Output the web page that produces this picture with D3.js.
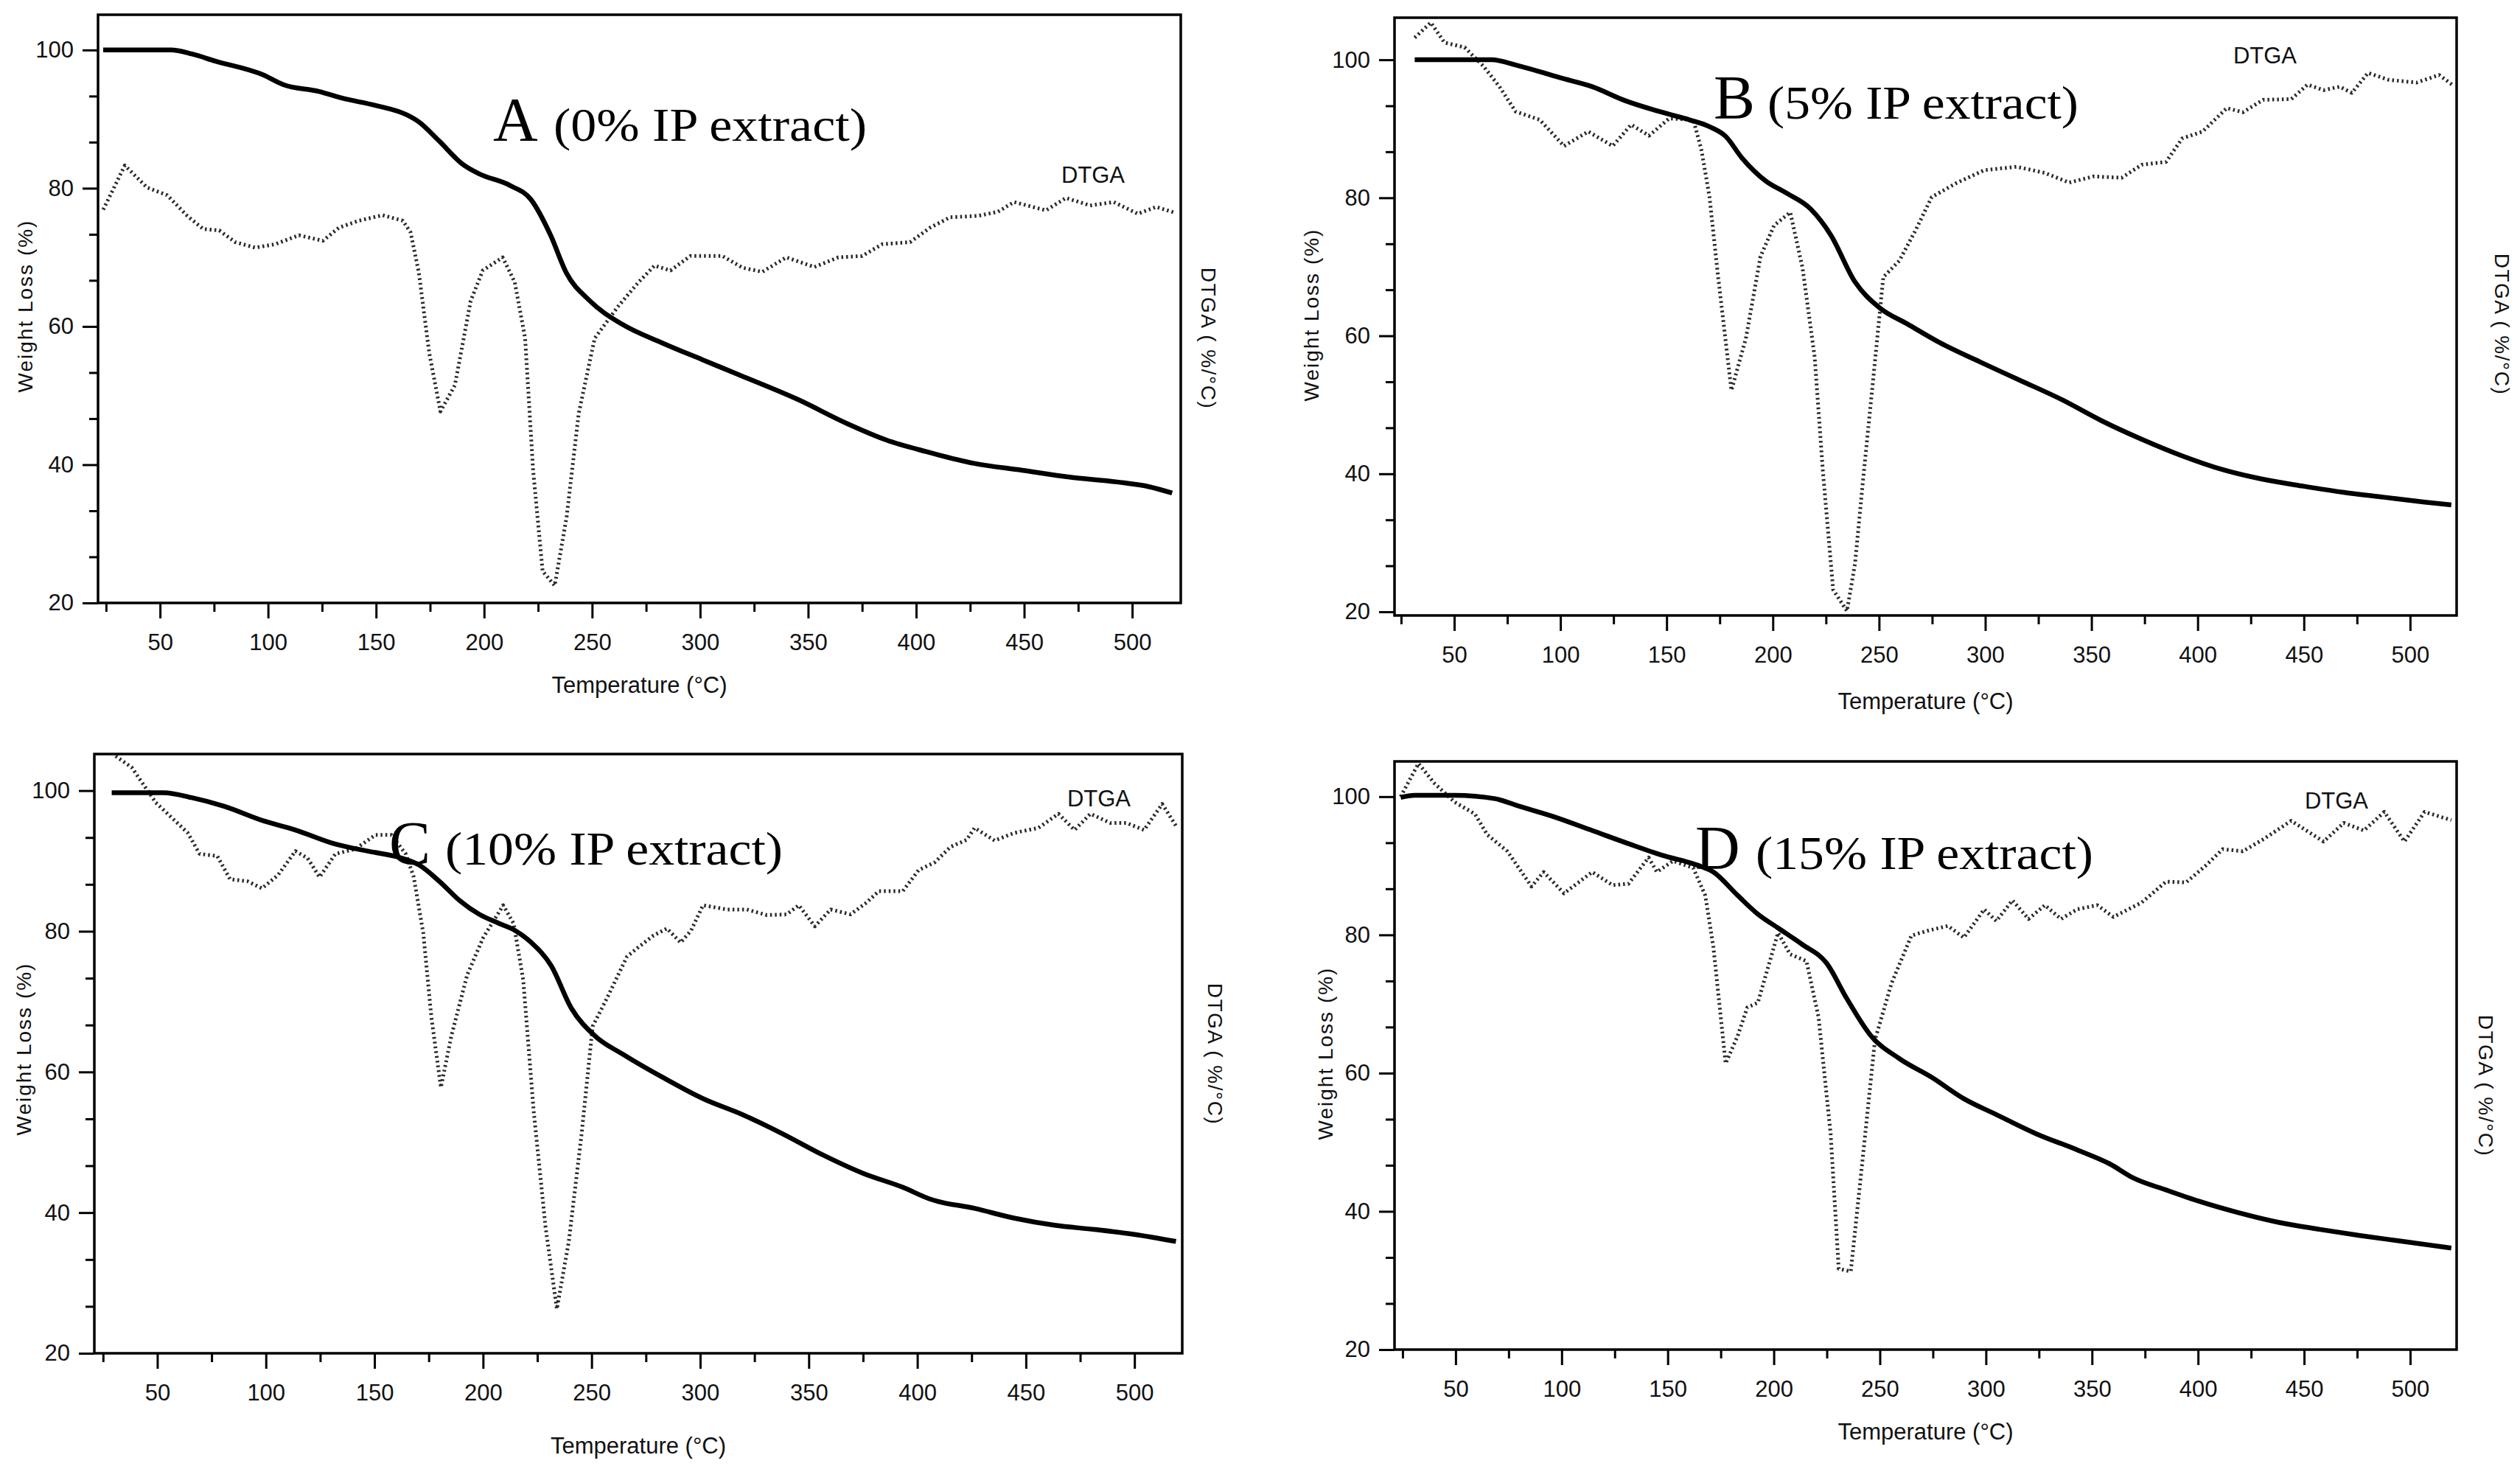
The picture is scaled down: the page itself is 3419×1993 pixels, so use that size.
<!DOCTYPE html>
<html>
<head>
<meta charset="utf-8">
<script src="https://cdn.jsdelivr.net/npm/d3@7"></script>
<style>
  body { margin: 0; background: #fff; }
  svg { display: block; }
  .axis text, .axis-title { font-family: "Liberation Sans", Arial, sans-serif; fill: #111; }
  .panel-title { font-family: "Liberation Serif", "Times New Roman", serif; fill: #000; }
</style>
</head>
<body>
<div id="chart"></div>
<script>
// tick values
const xTicks = [50, 100, 150, 200, 250, 300, 350, 400, 450, 500]
const xMinorTicks = [25, 75, 125, 175, 225, 275, 325, 375, 425, 475]
const yTicks = [20, 40, 60, 80, 100]
const yMinorTicks = [26.67, 33.33, 46.67, 53.33, 66.67, 73.33, 86.67, 93.33]

const panelLetters = ["A", "B", "C", "D"]
const panelNotes = ["(0% IP extract)", "(5% IP extract)", "(10% IP extract)", "(15% IP extract)"]

// [temperature °C, weight %]
const tgA = [[23.7,100],[55,100],[65,99.4],[75.5,98.4],[97.7,96.4],[107,95],[123.6,94],[134.7,93],[149.5,92],[164.3,90.6],[169.8,89.6],[179,86.9],[190,83.5],[197.6,82.1],[212,80.4],[221.6,78.4],[230.8,73.2],[238,67.8],[249,63.7],[264,60.3],[282.6,57.6],[301,55.2],[319.6,52.8],[345.5,49.4],[367.7,46],[386,43.6],[404.6,41.9],[426.8,40.2],[449,39.2],[471,38.2],[493,37.5],[508,36.8],[518.5,35.9]]
const tgB = [[31.4,100],[67.5,100],[80.8,99.1],[99.8,97.4],[115,96.1],[130.3,94.1],[145.5,92.6],[160.7,91.3],[170.2,90.3],[177.8,88.9],[185.4,85.8],[196.8,82.4],[206.3,80.7],[217.7,78.4],[227.3,74.6],[238.7,67.8],[250.1,64.1],[263.4,61.7],[278.6,59],[297.6,56.2],[316.7,53.5],[335.7,50.8],[354.7,47.7],[373.7,45],[392.7,42.6],[411.8,40.6],[430.8,39.2],[449.8,38.2],[468.8,37.3],[487.8,36.6],[506.9,35.9],[519.4,35.5]]
const tgC = [[29,99.7],[52.9,99.7],[65.8,99],[80.5,97.8],[98.9,95.7],[113.6,94.4],[132,92.4],[146.8,91.4],[161.5,90.5],[170.7,89.4],[179.9,87.1],[189.1,84.4],[198.3,82.4],[207.5,81.1],[214.8,80.1],[222.2,78.4],[231.4,75.1],[240.6,69.1],[251.6,65.1],[264.5,62.5],[282.9,59.2],[301.3,56.2],[319.7,53.9],[338,51.2],[356.5,48.2],[374.9,45.6],[393.3,43.6],[406.1,41.9],[426.4,40.6],[444.8,39.2],[463.2,38.2],[481.6,37.6],[500,36.9],[519.1,35.9]]
const tgD = [[24.1,99.9],[30.6,100.2],[49.6,100.2],[68.7,99.7],[80.1,98.6],[95.3,97.2],[114.4,95.1],[131.5,93.2],[148.7,91.4],[163.9,90.1],[171.5,89.1],[183,85.7],[192.5,83],[202,81],[213.5,78.6],[224.9,75.9],[234.4,70.8],[245.8,65.4],[259.2,62.1],[274.4,59.4],[289.6,56.3],[304.9,54],[323.9,51.2],[343,48.9],[358.2,46.9],[369.7,44.8],[384.9,43.1],[400.1,41.5],[419.2,39.8],[438.2,38.4],[457.3,37.4],[476.3,36.5],[495.4,35.7],[519.4,34.7]]

// [temperature °C, DTGA in left-axis units]
const dtgaA = [[23.7,76.9],[33.7,83.3],[44,80.1],[53.3,79],[62.6,76],[70,74.1],[77.4,73.9],[84.8,72.2],[94,71.4],[103.3,71.9],[114.3,73.2],[125.4,72.4],[132.8,74.3],[142,75.3],[153,76.1],[162.4,75.3],[166,73.6],[169.8,67.8],[174.6,56.2],[179.8,47.7],[186.5,51.5],[193.8,63.7],[199.4,68.1],[208.6,70],[214.2,66.4],[219,58.3],[222.7,39.2],[227.1,24.6],[232.7,22.5],[238.2,32.4],[243.8,47.4],[251.2,58.3],[262.3,63],[271.5,66.4],[278.9,68.8],[286.3,68.1],[295.5,70.2],[310.3,70.2],[319.6,68.5],[328.8,67.9],[339.9,70],[352.9,68.6],[364,70],[375,70.2],[384.3,71.9],[397.2,72.2],[406.5,74.3],[415.7,75.8],[428.7,76],[437.9,76.6],[445.3,78],[460.1,76.8],[469.4,78.6],[480.5,77.5],[491.5,78],[502.6,76.3],[511.1,77.3],[519.3,76.5]]
const dtgaB = [[31.4,103.2],[39,105.4],[45.4,102.5],[54.9,101.8],[63.7,99.1],[71.3,96.1],[78.9,92.5],[90.3,91.3],[101.7,87.5],[113.1,89.6],[124.6,87.5],[133.3,90.6],[141.7,89],[151.2,91.5],[162.6,91.3],[166.4,86.9],[170.2,80.1],[174,69.2],[180.5,52.1],[187.3,59.6],[194.2,71.5],[200.6,76],[208.2,77.9],[214,69.8],[219.7,56.9],[223.5,40.6],[228.4,23.2],[234.9,20.1],[238.7,27],[242.5,39.2],[247.4,54.2],[252,68.5],[259.6,70.9],[267.2,75.3],[274.8,80.1],[286.2,82.1],[299.5,84],[314.8,84.5],[328.1,83.6],[339.5,82.2],[350.9,83.1],[364.2,82.9],[373.7,84.8],[385.1,85.2],[392.7,88.6],[402.3,89.6],[413.7,93],[421.3,92.4],[430.8,94.2],[444.1,94.3],[451.7,96.4],[459.3,95.6],[466.9,96.1],[472.6,95.2],[480.2,98.1],[489.8,97.1],[503.1,96.7],[513.7,97.8],[520.2,96.3]]
const dtgaC = [[29,105.3],[38.2,103.3],[49.3,98.3],[64,94],[69.5,91],[77.6,90.7],[83.5,87.4],[91.6,87.1],[98.2,86.1],[105.6,88],[113.6,91.4],[119.2,90.4],[124.7,87.7],[132,91],[141.2,91.7],[150.4,93.7],[157.8,93.7],[164.4,91],[168.1,87.7],[172.5,79.7],[176.2,67.8],[180.6,57.8],[185.4,65.1],[192.7,73.8],[200.1,79.1],[209.3,83.7],[214.1,81.1],[218.5,73.1],[223.3,54.5],[228.8,37.9],[234,26.3],[239.5,35.9],[245.4,51.2],[250.5,66.5],[257.1,70.5],[266.3,76.4],[271.8,77.8],[278.5,79.4],[284.7,80.4],[291,78.4],[295.8,80.1],[301.3,83.7],[312.3,83.1],[321.5,83.1],[330.7,82.3],[339.9,82.4],[345.4,83.7],[352.8,80.7],[360.1,83.1],[369.3,82.4],[376.7,84.1],[382.2,85.7],[393.3,85.7],[400.6,88.7],[408,89.8],[415.3,92],[422.7,93],[426.4,94.7],[435.6,92.9],[444.8,94],[455.8,94.7],[465,96.7],[472.4,94.4],[479.7,96.7],[488.9,95.4],[496.3,95.4],[504.4,94.4],[512.8,98.1],[519.1,95]]
const dtgaD = [[24.1,100],[32.5,104.8],[40.1,101.9],[49.6,99.2],[59.1,97.5],[64.9,94.5],[74.4,92.1],[85.8,87],[91.5,89.1],[101.1,86],[114.4,89.1],[124,87.2],[131.5,87.4],[141,91.2],[144.9,89.1],[152.5,90.7],[162,89.7],[167.7,85.7],[171.5,78.3],[177.3,61.4],[183,65.4],[187.5,69.5],[192.5,70.2],[202,80.3],[207.7,77.2],[215.4,76.2],[221.1,68.1],[226.8,51.2],[230.6,31.7],[236.3,31.3],[242,47.9],[247.7,64.8],[255.4,72.9],[264.9,79.9],[272.5,80.6],[282.1,81.3],[289.6,79.6],[299.2,83.7],[304.9,82],[312.5,85],[320.1,82.3],[327.8,84.3],[335.4,82.3],[343,83.7],[352.5,84.3],[360.1,82.6],[373.5,84.7],[384.9,87.7],[394.4,87.6],[403.9,90.1],[411.6,92.4],[421.1,92.1],[430.6,93.8],[443.9,96.5],[459.2,93.5],[468.7,96.2],[478.2,95.1],[487.8,97.8],[497.3,93.5],[506.8,97.8],[519.4,96.6]]

const width = 3419
const height = 1993

// layout of the four panels (pixel boxes and where their texts sit)
const panels = [
  {box: [133, 1602, 20, 818], xDom: [21.3, 522.5], yDom: [20, 105.1], tg: tgA, dtga: dtgaA,
   title: [669, 751, 191, 425], dtgaLabel: [1483, 248], xTitleY: 940, yTitle: [34, 415], rTitle: [1639, 459]},
  {box: [1892, 3333, 24, 835], xDom: [21.9, 521.9], yDom: [19.47, 106.1], tg: tgB, dtga: dtgaB,
   title: [2325, 2398, 161, 422], dtgaLabel: [3073, 86], xTitleY: 962, yTitle: [1779, 427], rTitle: [3394, 440]},
  {box: [128, 1604, 1023, 1836], xDom: [21, 522], yDom: [20, 105.2], tg: tgC, dtga: dtgaC,
   title: [528, 604, 1173, 458], dtgaLabel: [1491, 1094], xTitleY: 1972, yTitle: [32, 1423], rTitle: [1648, 1430]},
  {box: [1892, 3333, 1033, 1831], xDom: [21.2, 521.9], yDom: [20, 105.1], tg: tgD, dtga: dtgaD,
   title: [2300, 2382, 1179, 458], dtgaLabel: [3170, 1097], xTitleY: 1953, yTitle: [1798, 1429], rTitle: [3372, 1473]}
]

const svg = d3
  .select("#chart")
  .append("svg")
  .attr("width", width)
  .attr("height", height)
  .attr("viewBox", "0 0 " + width + " " + height)

svg.append("rect").attr("width", width).attr("height", height).attr("fill", "#fff")

panels.forEach((p, i) => {
  const [left, right, top, bottom] = p.box
  const x = d3.scaleLinear().domain(p.xDom).range([left, right])
  const y = d3.scaleLinear().domain(p.yDom).range([bottom, top])
  const g = svg.append("g").attr("class", "panel")

  // clip for the curves
  g.append("clipPath")
    .attr("id", "clip" + i)
    .append("rect")
    .attr("x", left).attr("y", top)
    .attr("width", right - left).attr("height", bottom - top)

  // minor ticks
  g.append("g")
    .attr("class", "axis")
    .attr("transform", "translate(0," + bottom + ")")
    .call(d3.axisBottom(x).tickValues(xMinorTicks).tickSize(12).tickSizeOuter(0).tickFormat(""))
  g.append("g")
    .attr("class", "axis")
    .attr("transform", "translate(" + left + ",0)")
    .call(d3.axisLeft(y).tickValues(yMinorTicks).tickSize(12).tickSizeOuter(0).tickFormat(""))

  // major ticks with labels
  g.append("g")
    .attr("class", "axis")
    .attr("transform", "translate(0," + bottom + ")")
    .call(d3.axisBottom(x).tickValues(xTicks).tickSize(21).tickSizeOuter(0).tickPadding(21).tickFormat(d3.format("d")))
  g.append("g")
    .attr("class", "axis")
    .attr("transform", "translate(" + left + ",0)")
    .call(d3.axisLeft(y).tickValues(yTicks).tickSize(21).tickSizeOuter(0).tickPadding(12).tickFormat(d3.format("d")))

  g.selectAll(".axis .domain").remove()
  g.selectAll(".axis line").attr("stroke", "#000").attr("stroke-width", 3)
  g.selectAll(".axis text")
    .attr("font-size", 31)
    .attr("font-family", "Liberation Sans, Arial, sans-serif")
    .attr("fill", "#111")

  // frame
  g.append("rect")
    .attr("x", left).attr("y", top)
    .attr("width", right - left).attr("height", bottom - top)
    .attr("fill", "none")
    .attr("stroke", "#000")
    .attr("stroke-width", 3.5)

  const curves = g.append("g").attr("clip-path", "url(#clip" + i + ")")

  // DTGA, dotted
  curves.append("path")
    .datum(p.dtga)
    .attr("fill", "none")
    .attr("stroke", "#2a2a2a")
    .attr("stroke-width", 5)
    .attr("stroke-dasharray", "2.5 4")
    .attr("stroke-linejoin", "round")
    .attr("d", d3.line().x(d => x(d[0])).y(d => y(d[1])))

  // TG, thick black
  curves.append("path")
    .datum(p.tg)
    .attr("fill", "none")
    .attr("stroke", "#000")
    .attr("stroke-width", 6.5)
    .attr("stroke-linejoin", "round")
    .attr("d", d3.line().curve(d3.curveMonotoneX).x(d => x(d[0])).y(d => y(d[1])))

  // axis titles
  g.append("text")
    .attr("class", "axis-title")
    .attr("x", (left + right) / 2)
    .attr("y", p.xTitleY)
    .attr("text-anchor", "middle")
    .attr("font-size", 31)
    .text("Temperature (°C)")

  g.append("text")
    .attr("class", "axis-title")
    .attr("transform", "translate(" + p.yTitle[0] + "," + p.yTitle[1] + ") rotate(-90)")
    .attr("text-anchor", "middle")
    .attr("dominant-baseline", "central")
    .attr("font-size", 28)
    .attr("letter-spacing", 2)
    .text("Weight Loss (%)")

  g.append("text")
    .attr("class", "axis-title")
    .attr("transform", "translate(" + p.rTitle[0] + "," + p.rTitle[1] + ") rotate(90)")
    .attr("text-anchor", "middle")
    .attr("dominant-baseline", "central")
    .attr("font-size", 28)
    .attr("letter-spacing", 1.5)
    .text("DTGA ( %/°C)")

  g.append("text")
    .attr("class", "axis-title")
    .attr("x", p.dtgaLabel[0])
    .attr("y", p.dtgaLabel[1])
    .attr("text-anchor", "middle")
    .attr("font-size", 31)
    .text("DTGA")

  // panel title: big letter + note
  g.append("text")
    .attr("class", "panel-title")
    .attr("x", p.title[0])
    .attr("y", p.title[2])
    .attr("font-size", 84)
    .text(panelLetters[i])
  g.append("text")
    .attr("class", "panel-title")
    .attr("x", p.title[1])
    .attr("y", p.title[2])
    .attr("font-size", 64)
    .attr("textLength", p.title[3])
    .attr("lengthAdjust", "spacingAndGlyphs")
    .text(panelNotes[i])
})
</script>
</body>
</html>
